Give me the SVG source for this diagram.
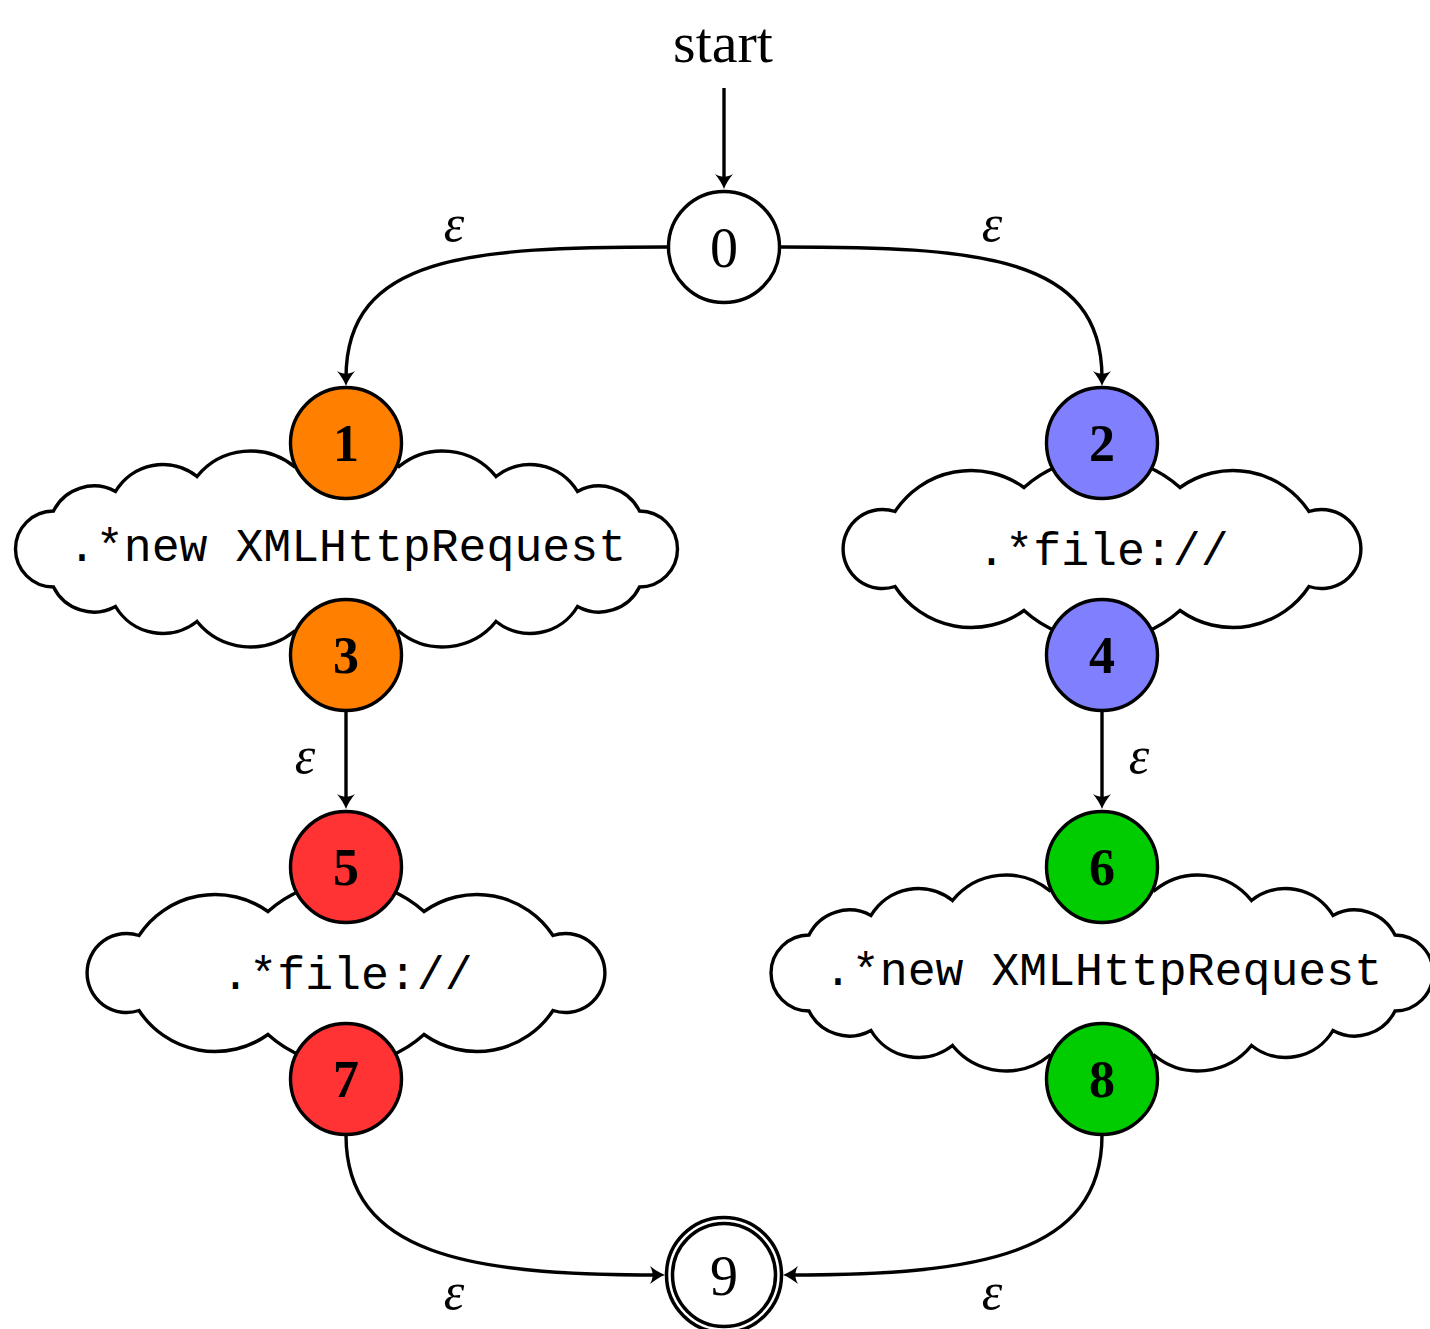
<svg xmlns="http://www.w3.org/2000/svg" width="1430" height="1329" viewBox="0 0 1430 1329">
<style>
.edge{fill:none;stroke:#000;stroke-width:3.4}
.st{stroke:#000;stroke-width:3.4}
.cloud{fill:#fff;stroke:#000;stroke-width:3.4;stroke-linejoin:miter}
.num{font-family:"Liberation Serif",serif;font-weight:bold;font-size:52px;text-anchor:middle}
.rnum{font-family:"Liberation Serif",serif;font-size:56px;text-anchor:middle}
.tt{font-family:"Liberation Mono",monospace;font-size:46.5px;text-anchor:middle}
.eps{font-family:"Liberation Serif",serif;font-style:italic;font-size:52px;text-anchor:middle}
</style>
<defs>
<marker id="arr" markerUnits="userSpaceOnUse" markerWidth="20" markerHeight="20" refX="0" refY="0" orient="auto" overflow="visible">
<path d="M 8 0 C 3 -1.8 -2 -5 -7 -9 C -3.5 -3 -3.5 3 -7 9 C -2 5 3 1.8 8 0 Z" fill="#000"/>
</marker>
<path id="cloudA" d="M -293 38 A 37.5 37.5 0 0 1 -293 -38 A 45 45 0 0 1 -231 -57.5 A 55 55 0 0 1 -149.5 -72.5 A 69 69 0 0 1 -52.5 -82.5 A 74 74 0 0 1 52.5 -82.5 A 69 69 0 0 1 149.5 -72.5 A 55 55 0 0 1 231 -57.5 A 45 45 0 0 1 293 -38 A 37.5 37.5 0 0 1 293 38 A 45 45 0 0 1 231 57.5 A 55 55 0 0 1 149.5 72.5 A 69 69 0 0 1 52.5 82.5 A 74 74 0 0 1 -52.5 82.5 A 69 69 0 0 1 -149.5 72.5 A 55 55 0 0 1 -231 57.5 A 45 45 0 0 1 -293 38 Z"/>
<path id="cloudB" d="M -207 37.5 A 39.5 39.5 0 1 1 -207 -37.5 A 91 91 0 0 1 -78 -61.5 A 116 116 0 0 1 78 -61.5 A 91 91 0 0 1 207 -37.5 A 39.5 39.5 0 1 1 207 37.5 A 91 91 0 0 1 78 61.5 A 116 116 0 0 1 -78 61.5 A 91 91 0 0 1 -207 37.5 Z"/>
</defs>
<rect width="1430" height="1329" fill="#fff"/>

<g id="clouds">
<g id="cloud-1"><use href="#cloudA" class="cloud" transform="translate(346.5,549)"/><text class="tt" x="347" y="561">.*new XMLHttpRequest</text></g>
<g id="cloud-2"><use href="#cloudB" class="cloud" transform="translate(1102,549)"/><text class="tt" x="1103" y="565">.*file://</text></g>
<g id="cloud-3"><use href="#cloudB" class="cloud" transform="translate(346,973)"/><text class="tt" x="347" y="989">.*file://</text></g>
<g id="cloud-4"><use href="#cloudA" class="cloud" transform="translate(1102,973)"/><text class="tt" x="1103" y="985">.*new XMLHttpRequest</text></g>
</g>

<g id="connectors">
<path class="edge" d="M 724 88 L 724 181" marker-end="url(#arr)"/>
<path class="edge" d="M 668 247 C 470 247 346 255 346 378" marker-end="url(#arr)"/>
<path class="edge" d="M 780 247 C 978 247 1102 255 1102 378" marker-end="url(#arr)"/>
<path class="edge" d="M 346 712 L 346 801" marker-end="url(#arr)"/>
<path class="edge" d="M 1102 712 L 1102 801" marker-end="url(#arr)"/>
<path class="edge" d="M 346 1135 C 346 1255 470 1275 657 1275" marker-end="url(#arr)"/>
<path class="edge" d="M 1102 1135 C 1102 1255 978 1275 791 1275" marker-end="url(#arr)"/>
<text x="723" y="62" style="font-family:'Liberation Serif',serif;font-size:58px;text-anchor:middle">start</text>
<text class="eps" x="454" y="241">ε</text>
<text class="eps" x="992" y="241">ε</text>
<text class="eps" x="305" y="773">ε</text>
<text class="eps" x="1139" y="773">ε</text>
<text class="eps" x="454" y="1309">ε</text>
<text class="eps" x="992" y="1309">ε</text>
</g>

<g id="node-0"><circle cx="724" cy="247" r="55.5" fill="#fff" class="st"/><text class="rnum" x="724" y="267">0</text></g>
<g id="node-1"><circle cx="346" cy="443" r="55.5" fill="#FF8000" class="st"/><text class="num" x="346" y="461">1</text></g>
<g id="node-2"><circle cx="1102" cy="443" r="55.5" fill="#8080FF" class="st"/><text class="num" x="1102" y="461">2</text></g>
<g id="node-3"><circle cx="346" cy="655" r="55.5" fill="#FF8000" class="st"/><text class="num" x="346" y="673">3</text></g>
<g id="node-4"><circle cx="1102" cy="655" r="55.5" fill="#8080FF" class="st"/><text class="num" x="1102" y="673">4</text></g>
<g id="node-5"><circle cx="346" cy="867" r="55.5" fill="#FF3333" class="st"/><text class="num" x="346" y="885">5</text></g>
<g id="node-6"><circle cx="1102" cy="867" r="55.5" fill="#00CC00" class="st"/><text class="num" x="1102" y="885">6</text></g>
<g id="node-7"><circle cx="346" cy="1079" r="55.5" fill="#FF3333" class="st"/><text class="num" x="346" y="1097">7</text></g>
<g id="node-8"><circle cx="1102" cy="1079" r="55.5" fill="#00CC00" class="st"/><text class="num" x="1102" y="1097">8</text></g>
<g id="node-9"><circle cx="724" cy="1275" r="54.5" fill="#fff" stroke="#000" stroke-width="9.5"/><circle cx="724" cy="1275" r="54.5" fill="none" stroke="#fff" stroke-width="2.5"/><text class="rnum" x="724" y="1295">9</text></g>
</svg>
